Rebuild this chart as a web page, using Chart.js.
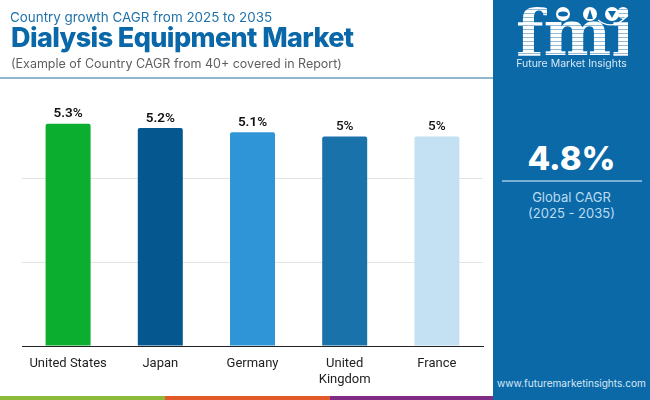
<!DOCTYPE html>
<html>
<head>
<meta charset="utf-8">
<title>Dialysis Equipment Market</title>
<script src="https://cdn.jsdelivr.net/npm/chart.js@4/dist/chart.umd.min.js"></script>
<style>
  html, body { margin: 0; padding: 0; background: #fff; }
  #page { position: relative; width: 650px; height: 400px; overflow: hidden; font-family: Inter, "Open Sans", sans-serif; }
  #page > div, #page > canvas, #page > svg { position: absolute; white-space: nowrap; }
  #chart { left: 0; top: 0; }
  #kicker { left: 10px; top: 7px; font-size: 13.4px; line-height: 20px; color: #1f72ab; }
  #title { left: 11px; top: 20px; font-size: 27px; line-height: 36px; font-weight: 800; color: #0b68a8; letter-spacing: -0.6px; }
  #note { left: 11px; top: 54px; font-size: 12.5px; line-height: 20px; color: #5f5f5f; }
  #rule { left: 0; top: 77px; width: 493px; height: 2px; background: #8fb6cc; }
  #panel { left: 493px; top: 0; width: 157px; height: 400px; background: #0b69a8; }
  #logo { left: 516px; top: 2px; width: 112px; text-align: center; font-family: "DejaVu Serif", serif; font-weight: 700; font-size: 64px; line-height: 62px; letter-spacing: 0;
    color: transparent; background: repeating-linear-gradient(#fff 0 3px, rgba(255,255,255,.55) 3px 4px); -webkit-background-clip: text; background-clip: text; }
  #logoName { left: 493px; width: 157px; top: 56px; text-align: center; font-size: 10.5px; line-height: 16px; color: #d5e8f5; }
  #cagr { left: 493px; width: 157px; top: 137px; text-align: center; font-size: 33px; line-height: 42px; font-weight: 800; color: #fff; }
  #cagrLine { left: 502px; top: 180px; width: 140px; height: 2px; background: #7cb1d6; }
  #cagrLabel { left: 493px; width: 157px; top: 189px; text-align: center; font-size: 13px; line-height: 16px; color: #bcdcf0; }
  #site { left: 493px; width: 157px; top: 375px; text-align: center; font-size: 10.1px; line-height: 16px; color: #d5e8f5; }
  .strip { top: 396px; height: 4px; }
</style>
</head>
<body>
<div id="page">
  <canvas id="chart" width="490" height="400"></canvas>
  <div id="kicker">Country growth CAGR from 2025 to 2035</div>
  <div id="title">Dialysis Equipment Market</div>
  <div id="note">(Example of Country CAGR from 40+ covered in Report)</div>
  <div id="rule"></div>
  <div class="strip" style="left:0;width:165px;background:#8cbb3c"></div>
  <div class="strip" style="left:165px;width:165px;background:#e2592a"></div>
  <div class="strip" style="left:330px;width:163px;background:#7f2c82"></div>
  <div id="panel"></div>
  <div id="logo">fmi</div>
  <svg style="left:493px;top:0" width="157" height="40" viewBox="0 0 157 40">
    <circle cx="70" cy="14" r="7" fill="#fff"/><ellipse cx="70" cy="14" rx="5" ry="2.5" fill="#0b69a8"/>
    <circle cx="97" cy="14" r="7" fill="#fff"/><path d="M94 19 L97 9 L100 19 Z" fill="#0b69a8"/>
    <circle cx="119" cy="14" r="7" fill="#fff"/><path d="M115 11 H123 L119 18 Z" fill="#0b69a8"/>
    <path d="M105 20 Q120 32 135 15" fill="none" stroke="#fff" stroke-width="1.2"/>
  </svg>
  <div id="logoName">Future Market Insights</div>
  <div id="cagr">4.8%</div>
  <div id="cagrLine"></div>
  <div id="cagrLabel">Global CAGR<br>(2025 - 2035)</div>
  <div id="site">www.futuremarketinsights.com</div>
</div>
<script>
const categories = ['United States', 'Japan', 'Germany', ['United', 'Kingdom'], 'France'];
const cagrValues = [5.3, 5.2, 5.1, 5, 5];
const barColors = ['#0bae2e', '#04588f', '#2f95d6', '#1a72ab', '#c3e1f2'];
const yTicks = [0, 2, 4, 6];

// 棒の上に値を表示する
const valueLabels = {
  id: 'valueLabels',
  afterDatasetsDraw(chart) {
    const ctx = chart.ctx;
    ctx.save();
    ctx.textAlign = 'center';
    ctx.textBaseline = 'bottom';
    ctx.fillStyle = '#111';
    chart.getDatasetMeta(0).data.forEach((bar, i) => {
      ctx.font = (cagrValues[i] === 5 ? '500' : '600') + ' 13.5px Roboto';
      ctx.fillText(cagrValues[i] + '%', bar.x, bar.y - 3);
    });
    ctx.restore();
  }
};

new Chart(document.getElementById('chart').getContext('2d'), {
  type: 'bar',
  data: {
    labels: categories,
    datasets: [{
      data: cagrValues,
      backgroundColor: barColors,
      borderRadius: { topLeft: 2, topRight: 2 },
      borderSkipped: 'bottom',
      barPercentage: 0.488,
      categoryPercentage: 1
    }]
  },
  options: {
    responsive: false,
    animation: false,
    layout: { padding: { left: 22, right: 7, top: 94.5, bottom: 0 } },
    plugins: { legend: { display: false }, tooltip: { enabled: false } },
    scales: {
      x: {
        afterFit(scale) { scale.height = 54; },
        grid: { display: false },
        border: { color: '#222', width: 1 },
        ticks: { color: '#222', font: { family: 'Roboto', size: 13 }, padding: 2, maxRotation: 0, autoSkip: false }
      },
      y: {
        min: 0,
        max: 6,
        afterFit(scale) { scale.width = 0; },
        afterBuildTicks(scale) { scale.ticks = yTicks.map(v => ({ value: v })); },
        grid: {
          drawTicks: false,
          color: ctx => (ctx.tick && ctx.tick.value === 6 ? 'transparent' : '#e3e3e3')
        },
        border: { display: false },
        ticks: { display: false }
      }
    }
  },
  plugins: [valueLabels]
});
</script>
</body>
</html>
